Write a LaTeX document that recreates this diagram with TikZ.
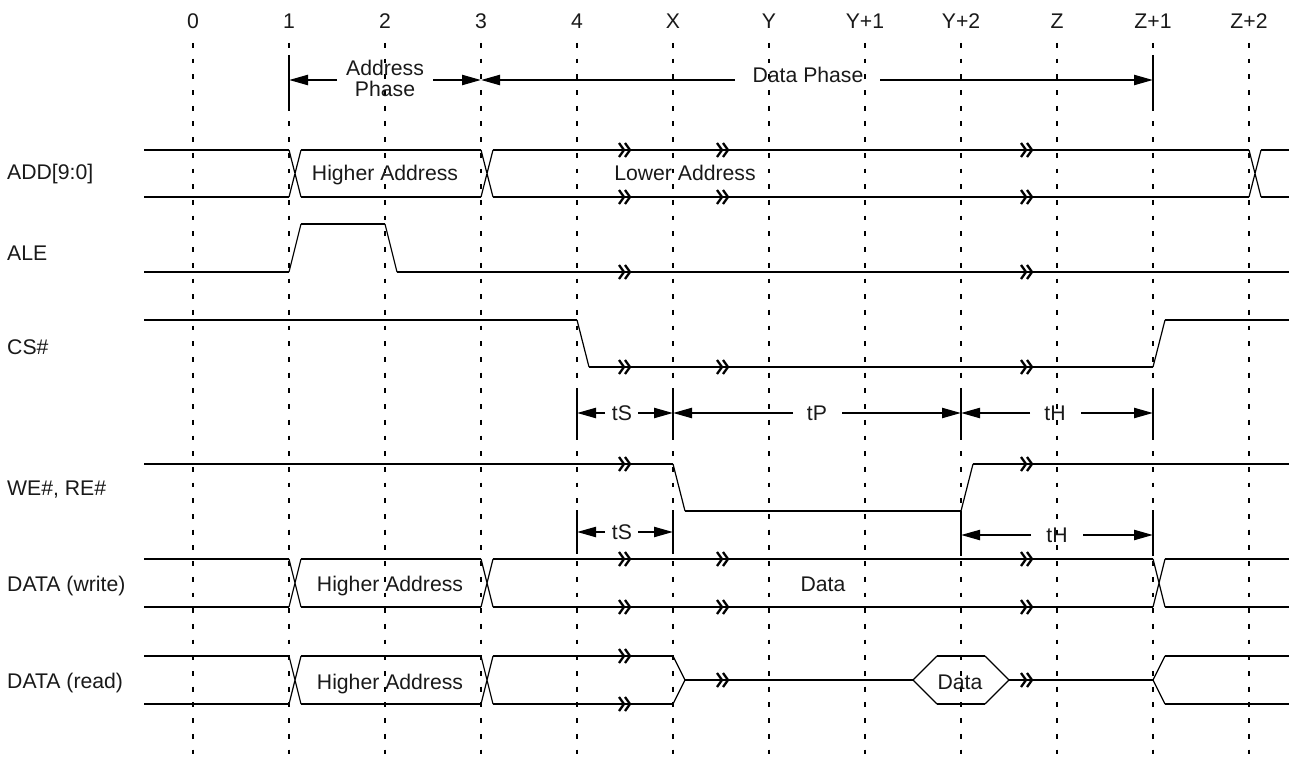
\documentclass[tikz,border=0pt]{standalone}
\usepackage{fontspec}
\setmainfont{Liberation Sans}
\usetikzlibrary{arrows.meta}
\begin{document}
\begin{tikzpicture}[x=1pt,y=-1pt,
  lbl/.style={font=\fontsize{21.2}{21.2}\selectfont, text=black!90, inner sep=0pt, anchor=base},
  vline/.style={line width=2.4pt, dash pattern=on 4.8pt off 10.9pt, black},
  sig/.style={line width=2.2pt},
  sigbus/.style={line width=1.4pt},
  dbus/.style={line width=2.2pt},
  xedge/.style={line width=1.2pt},
  dimarrow/.style={line width=2.2pt, -{Triangle[length=19pt,width=10pt]}},
  vbar/.style={line width=2.2pt},
  brkmark/.pic={\draw[line width=2.3pt] (-6,-7) -- (-1,0) -- (-6,7) (0,-7) -- (5,0) -- (0,7);}
]
\useasboundingbox (0,0) rectangle (1289,759);

% time grid and labels
\foreach \i/\t in {0/0,1/1,2/2,3/3,4/4,5/X,6/Y,7/Y+1,8/Y+2,9/Z,10/Z+1,11/Z+2} {
  \draw[vline] (193+96*\i,43) -- (193+96*\i,759);
  \node[lbl] (tl\i) at (193+96*\i,29) {\t};
}

% phase arrows
\coordinate (p1) at (289,80);
\coordinate (p3) at (481,80);
\coordinate (p10) at (1153,80);
\draw[vbar] (289,55) -- (289,110);
\draw[vbar] (1153,55) -- (1153,110);
\node[lbl] (addr1) at (385,76) {Address};
\node[lbl] (addr2) at (385,96.5) {Phase};
\coordinate (aL) at (337,80);
\coordinate (aR) at (433,80);
\draw[dimarrow] (aL) -- (p1);
\draw[dimarrow] (aR) -- (p3);
\node[lbl] (dataph) at (808,83) {Data Phase};
\coordinate (dL) at (735,80);
\coordinate (dR) at (880,80);
\draw[dimarrow] (dL) -- (p3);
\draw[dimarrow] (dR) -- (p10);

% signal names
\node[lbl, anchor=base west] (nADD) at (7,180) {ADD[9:0]};
\node[lbl, anchor=base west] (nALE) at (7,260) {ALE};
\node[lbl, anchor=base west] (nCS) at (7,354) {CS\#};
\node[lbl, anchor=base west] (nWE) at (7,495) {WE\#, RE\#};
\node[lbl, anchor=base west] (nDW) at (7,591) {DATA (write)};
\node[lbl, anchor=base west] (nDR) at (7,688) {DATA (read)};

% ADD[9:0]
\draw[sigbus] (144,150) -- (289,150) (144,197) -- (289,197)
              (301,150) -- (481,150) (301,197) -- (481,197)
              (493,150) -- (1249,150) (493,197) -- (1249,197)
              (1261,150) -- (1289,150) (1261,197) -- (1289,197);
\draw[xedge] (289,150) -- (301,197) (289,197) -- (301,150)
             (481,150) -- (493,197) (481,197) -- (493,150)
             (1249,150) -- (1261,197) (1249,197) -- (1261,150);
\node[lbl] (hiA) at (385,181) {Higher Address};
\node[lbl] (loA) at (685,181) {Lower Address};

% ALE
\draw[sig] (144,272) -- (289,272) (301,224) -- (385,224) (397,272) -- (1289,272);
\draw[xedge] (289,272) -- (301,224) (385,224) -- (397,272);

% CS#
\draw[sig] (144,320) -- (577,320) (589,367) -- (1153,367) (1165,320) -- (1289,320);
\draw[xedge] (577,320) -- (589,367) (1153,367) -- (1165,320);

% timing row 1
\draw[vbar] (577,389) -- (577,437);
\draw[vbar] (673,389) -- (673,440);
\draw[vbar] (961,389) -- (961,437);
\draw[vbar] (1153,389) -- (1153,437);
\coordinate (r4) at (577,413);
\coordinate (r5) at (673,413);
\coordinate (r8) at (961,413);
\coordinate (r10) at (1153,413);
\node[lbl] (tS1) at (622,420) {tS};
\node[lbl] (tP1) at (817,420) {tP};
\node[lbl] (tH1) at (1055,420) {tH};
\coordinate (tS1L) at (605,413);
\coordinate (tS1R) at (638,413);
\coordinate (tP1L) at (793,413);
\coordinate (tP1R) at (842,413);
\coordinate (tH1L) at (1030,413);
\coordinate (tH1R) at (1081,413);
\draw[dimarrow] (tS1L) -- (r4);
\draw[dimarrow] (tS1R) -- (r5);
\draw[dimarrow] (tP1L) -- (r5);
\draw[dimarrow] (tP1R) -- (r8);
\draw[dimarrow] (tH1L) -- (r8);
\draw[dimarrow] (tH1R) -- (r10);

% WE#, RE#
\draw[sig] (144,464) -- (673,464) (685,511) -- (961,511) (973,464) -- (1289,464);
\draw[xedge] (673,464) -- (685,511) (961,511) -- (973,464);

% timing row 2
\draw[vbar] (577,510) -- (577,554);
\draw[vbar] (673,510) -- (673,554);
\draw[vbar] (961,511) -- (961,556);
\draw[vbar] (1153,510) -- (1153,556);
\coordinate (s4) at (577,532);
\coordinate (s5) at (673,532);
\coordinate (s8) at (961,535);
\coordinate (s10) at (1153,535);
\node[lbl] (tS2) at (622,539) {tS};
\node[lbl] (tH2) at (1057,542) {tH};
\coordinate (tS2L) at (605,532);
\coordinate (tS2R) at (638,532);
\coordinate (tH2L) at (1031,535);
\coordinate (tH2R) at (1083,535);
\draw[dimarrow] (tS2L) -- (s4);
\draw[dimarrow] (tS2R) -- (s5);
\draw[dimarrow] (tH2L) -- (s8);
\draw[dimarrow] (tH2R) -- (s10);

% DATA (write)
\draw[dbus] (144,559) -- (289,559) (144,607) -- (289,607)
            (301,559) -- (481,559) (301,607) -- (481,607)
            (493,559) -- (1153,559) (493,607) -- (1153,607)
            (1165,559) -- (1289,559) (1165,607) -- (1289,607);
\draw[xedge] (289,559) -- (301,607) (289,607) -- (301,559)
             (481,559) -- (493,607) (481,607) -- (493,559)
             (1153,559) -- (1165,607) (1153,607) -- (1165,559);
\node[lbl] (hiW) at (390,591) {Higher Address};
\node[lbl] (dW) at (823,591) {Data};

% DATA (read)
\draw[dbus] (144,656) -- (289,656) (144,704) -- (289,704)
            (301,656) -- (481,656) (301,704) -- (481,704)
            (493,656) -- (673,656) (493,704) -- (673,704)
            (685,680) -- (913,680) (1009,680) -- (1153,680)
            (937,656) -- (985,656) (937,704) -- (985,704)
            (1165,656) -- (1289,656) (1165,704) -- (1289,704);
\draw[xedge] (289,656) -- (301,704) (289,704) -- (301,656)
             (481,656) -- (493,704) (481,704) -- (493,656)
             (673,656) -- (685,680) -- (673,704)
             (937,656) -- (913,680) -- (937,704)
             (985,656) -- (1009,680) -- (985,704)
             (1165,656) -- (1153,680) -- (1165,704);
\node[lbl] (hiR) at (390,689) {Higher Address};
\node[lbl] (dR) at (960,689) {Data};

% break marks
\foreach \x in {625,723,1027} {
  \pic at (\x,150) {brkmark};
  \pic at (\x,197) {brkmark};
  \pic at (\x,367) {brkmark};
  \pic at (\x,559) {brkmark};
  \pic at (\x,607) {brkmark};
}
\foreach \x in {625,1027} {
  \pic at (\x,272) {brkmark};
  \pic at (\x,464) {brkmark};
}
\pic at (625,656) {brkmark};
\pic at (625,704) {brkmark};
\pic at (723,680) {brkmark};
\pic at (1027,680) {brkmark};
\end{tikzpicture}
\end{document}
